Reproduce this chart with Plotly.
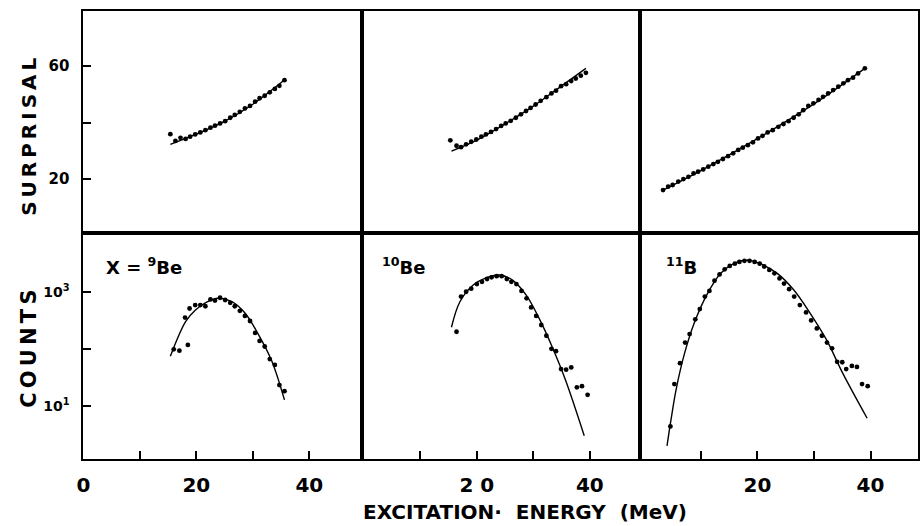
import plotly.graph_objects as go

W, H = 920, 526

# ---- surprisal (top row) ----
be9_surp_E = [15.4, 16.3, 17.2, 18.1, 18.9, 19.8, 20.7, 21.6, 22.5, 23.3, 24.2, 25.1, 26.0,
              26.8, 27.7, 28.6, 29.5, 30.4, 31.2, 32.1, 33.0, 33.9, 34.7, 35.6]
be9_surp_S = [35.9, 33.5, 34.6, 34.2, 35.0, 35.8, 36.5, 37.3, 38.2, 38.9, 39.7, 40.5, 41.7,
              42.7, 43.8, 45.0, 45.9, 47.4, 48.6, 49.5, 50.7, 51.9, 53.0, 55.0]
be9_surp_fit_E = [15.4, 20.0, 25.0, 30.0, 35.8]
be9_surp_fit_S = [32.3, 35.9, 40.4, 46.5, 55.4]

be10_surp_E = [15.3, 16.4, 17.2, 18.1, 19.0, 19.9, 20.8, 21.6, 22.5, 23.4, 24.3, 25.1, 26.0, 26.9,
               27.8, 28.7, 29.5, 30.4, 31.3, 32.3, 33.2, 34.0, 34.9, 35.8, 36.7, 37.5, 38.4, 39.3]
be10_surp_S = [33.7, 31.8, 31.3, 32.3, 33.2, 34.0, 35.0, 35.8, 36.7, 37.7, 38.8, 39.7, 40.6, 41.7,
               42.9, 44.1, 45.2, 46.4, 47.7, 49.0, 50.3, 51.3, 52.9, 53.6, 54.7, 55.6, 56.6, 57.6]
be10_surp_fit_E = [15.5, 20.0, 25.0, 30.0, 35.0, 39.3]
be10_surp_fit_S = [29.9, 33.8, 39.5, 45.8, 53.0, 59.2]

b11_surp_E = [3.3, 4.2, 5.0, 6.0, 6.9, 7.8, 8.7, 9.5, 10.4, 11.3, 12.2, 13.0, 13.9, 14.8,
              15.7, 16.6, 17.4, 18.3, 19.2, 20.1, 20.9, 21.8, 22.7, 23.7, 24.6, 25.5, 26.4,
              27.3, 28.1, 29.0, 29.9, 30.8, 31.6, 32.5, 33.4, 34.3, 35.2, 36.0, 36.9, 37.8, 39.0]
b11_surp_S = [16.1, 17.3, 17.9, 19.1, 20.0, 20.8, 22.0, 22.6, 23.4, 24.4, 25.3, 26.1, 27.1, 28.1,
              29.1, 30.3, 31.1, 32.0, 33.0, 34.4, 35.3, 36.5, 37.3, 38.5, 39.5, 40.5, 41.7,
              42.9, 44.4, 45.9, 46.8, 48.0, 49.1, 50.3, 51.5, 52.7, 53.9, 55.0, 55.9, 57.4, 59.2]
b11_surp_fit_E = [3.3, 10.0, 20.0, 30.0, 39.0]
b11_surp_fit_S = [16.1, 23.0, 34.3, 46.6, 59.2]

# ---- counts (bottom row, log scale) ----
be9_cnt_E = [16.0, 17.0, 18.0, 18.5, 18.8, 19.8, 20.7, 21.6, 22.5, 23.3, 24.2, 25.1, 26.0,
             26.8, 27.7, 28.6, 29.5, 30.4, 31.2, 32.1, 33.0, 33.9, 34.7, 35.6]
be9_cnt_N = [98, 93, 355, 117, 513, 589, 589, 562, 741, 708, 794, 724, 646,
             562, 468, 380, 309, 191, 138, 110, 66, 52, 23, 18]
be9_cnt_fit_E = [15.4, 18.1, 19.8, 21.6, 23.9, 26.3, 28.6, 30.9, 33.3, 35.6]
be9_cnt_fit_N = [74, 302, 479, 646, 776, 676, 427, 186, 63, 12.6]

be10_cnt_E = [16.4, 17.2, 18.1, 19.0, 20.0, 20.9, 21.8, 22.6, 23.5, 24.4, 25.3, 26.1, 27.0, 27.9,
              28.8, 29.6, 30.5, 31.4, 32.3, 33.2, 34.0, 34.9, 35.8, 36.7, 37.7, 38.6, 39.6]
be10_cnt_N = [200, 832, 1012, 1148, 1380, 1514, 1698, 1820, 1905, 1905, 1698, 1514, 1380, 1047,
              776, 537, 380, 263, 170, 100, 91, 44, 43, 47, 21, 22, 15.5]
be10_cnt_fit_E = [15.5, 17.0, 19.3, 21.6, 24.0, 26.3, 28.7, 31.0, 33.3, 35.7, 39.0]
be10_cnt_fit_N = [240, 676, 1318, 1778, 1995, 1622, 891, 347, 110, 28, 2.95]

b11_cnt_E = [4.6, 5.3, 6.3, 7.2, 8.0, 9.0, 9.8, 10.7, 11.5, 12.4, 13.3, 14.2, 15.1, 16.0, 16.8,
             17.7, 18.6, 19.5, 20.4, 21.2, 22.1, 23.0, 23.9, 24.7, 25.6, 26.5, 27.5, 28.6, 29.5,
             30.5, 31.4, 32.3, 33.2, 34.1, 35.0, 35.7, 36.7, 37.6, 38.5, 39.5]
b11_cnt_N = [4.3, 24, 56, 129, 182, 331, 501, 832, 1047, 1585, 2042, 2512, 2884, 3162, 3388,
             3548, 3548, 3388, 3162, 2818, 2455, 2138, 1738, 1413, 1122, 832, 589, 437, 316,
             229, 170, 129, 102, 59, 58, 44, 50, 48, 24, 22]
b11_cnt_fit_E = [4.0, 4.7, 5.6, 7.1, 8.8, 11.2, 13.5, 15.8, 18.2, 20.5, 23.5, 26.4, 29.3, 32.2, 35.1, 39.4]
b11_cnt_fit_N = [1.95, 5.6, 19, 83, 282, 955, 2138, 3162, 3631, 3162, 2138, 1096, 427, 145, 37, 6.0]

panel_labels = ["X = <sup>9</sup>Be", "<sup>10</sup>Be", "<sup>11</sup>B"]

# ---- panel geometry (pixels) ----
col_px = [(77, 358), (358, 639), (639, 919)]
row_px = {"top": (11, 233), "bot": (233, 459)}
x_ranges = [[0, 49.3], [-0.35, 48.95], [-0.7, 48.4]]
surp_range = [0.9, 79.5]
log_range = [0.06, 4.04]

FONT = "DejaVu Sans"
ink = "black"

def xd(a, b):
    return [a / W, b / W]

def yd(top, bot):
    return [1 - bot / H, 1 - top / H]

fig = go.Figure()

dot = dict(color=ink, size=4.8, symbol="circle")
line = dict(color=ink, width=1.4, shape="spline")

top_series = [(be9_surp_E, be9_surp_S, be9_surp_fit_E, be9_surp_fit_S),
              (be10_surp_E, be10_surp_S, be10_surp_fit_E, be10_surp_fit_S),
              (b11_surp_E, b11_surp_S, b11_surp_fit_E, b11_surp_fit_S)]
bot_series = [(be9_cnt_E, be9_cnt_N, be9_cnt_fit_E, be9_cnt_fit_N),
              (be10_cnt_E, be10_cnt_N, be10_cnt_fit_E, be10_cnt_fit_N),
              (b11_cnt_E, b11_cnt_N, b11_cnt_fit_E, b11_cnt_fit_N)]

for i, (ex, ey, fx, fy) in enumerate(top_series):
    n = i + 1
    xa, ya = ("x" if n == 1 else f"x{n}"), ("y" if n == 1 else f"y{n}")
    fig.add_trace(go.Scatter(x=fx, y=fy, mode="lines", line=line, xaxis=xa, yaxis=ya))
    fig.add_trace(go.Scatter(x=ex, y=ey, mode="markers", marker=dot, xaxis=xa, yaxis=ya))

for i, (ex, ey, fx, fy) in enumerate(bot_series):
    n = i + 4
    xa, ya = f"x{n}", f"y{n}"
    fig.add_trace(go.Scatter(x=fx, y=fy, mode="lines", line=line, xaxis=xa, yaxis=ya))
    fig.add_trace(go.Scatter(x=ex, y=ey, mode="markers", marker=dot, xaxis=xa, yaxis=ya))

frame = dict(showline=True, mirror=True, linecolor=ink, linewidth=2,
             showgrid=False, zeroline=False, fixedrange=True)

layout = {}
for i in range(3):
    a, b = col_px[i]
    # top row
    kx = "xaxis" if i == 0 else f"xaxis{i+1}"
    ky = "yaxis" if i == 0 else f"yaxis{i+1}"
    anc_y = "y" if i == 0 else f"y{i+1}"
    anc_x = "x" if i == 0 else f"x{i+1}"
    layout[kx] = dict(frame, domain=xd(a, b), range=x_ranges[i], anchor=anc_y,
                      showticklabels=False, ticks="")
    ydict = dict(frame, domain=yd(*row_px["top"]), range=surp_range, anchor=anc_x)
    if i == 0:
        ydict.update(ticks="inside", ticklen=8, tickwidth=2, tickcolor=ink,
                     tickvals=[20, 40, 60], ticktext=["20", "", "60"],
                     tickfont=dict(family=FONT, size=15, color=ink, weight="bold"),
                     ticklabelstandoff=9)
    else:
        ydict.update(showticklabels=False, ticks="")
    layout[ky] = ydict

    # bottom row
    n = i + 4
    if i == 0:
        tv, tt = [0, 10, 20, 30, 40], ["0", "", "20", "", "40"]
    elif i == 1:
        tv, tt = [10, 20, 30, 40], ["", "2 0", "", "40"]
    else:
        tv, tt = [10, 20, 30, 40], ["", "20", "", "40"]
    layout[f"xaxis{n}"] = dict(frame, domain=xd(a, b), range=x_ranges[i], anchor=f"y{n}",
                               ticks="inside", ticklen=8, tickwidth=2, tickcolor=ink,
                               tickvals=tv, ticktext=tt,
                               tickfont=dict(family=FONT, size=20, color=ink, weight="bold"),
                               ticklabelstandoff=7)
    ydict = dict(frame, domain=yd(*row_px["bot"]), type="log", range=log_range, anchor=f"x{n}")
    if i == 0:
        ydict.update(ticks="inside", ticklen=8, tickwidth=2, tickcolor=ink,
                     tickvals=[10, 100, 1000],
                     ticktext=["10<sup>1</sup>", "", "10<sup>3</sup>"],
                     tickfont=dict(family=FONT, size=14, color=ink, weight="bold"),
                     ticklabelstandoff=9)
    else:
        ydict.update(showticklabels=False, ticks="")
    layout[f"yaxis{n}"] = ydict

title_font = dict(family=FONT, size=21, color=ink, weight="bold")
annotations = [
    dict(text="S U R P R I S A L".replace(" ", "\u2009"), x=22 / W, y=1 - 137 / H, textangle=-90,
         font=dict(title_font, size=20)),
    dict(text="C O U N T S".replace(" ", "\u2009"), x=22 / W, y=1 - 349 / H, textangle=-90,
         font=title_font),
    dict(text="EXCITATION\u00b7  ENERGY  (MeV)", x=523 / W, y=1 - 512 / H,
         font=dict(title_font, size=20)),
]
label_pos = [(98, 266), (376, 266), (663, 266)]
for (px, py), txt in zip(label_pos, panel_labels):
    annotations.append(dict(text=txt, x=px / W, y=1 - py / H, xanchor="left",
                            font=dict(family=FONT, size=18, color=ink, weight="bold")))
for an in annotations:
    an.setdefault("xanchor", "center")
    an.update(xref="paper", yref="paper", yanchor="middle", showarrow=False)

fig.update_layout(width=W, height=H, margin=dict(l=0, r=0, t=0, b=0),
                  paper_bgcolor="white", plot_bgcolor="white", showlegend=False,
                  annotations=annotations, **layout)

fig.write_html("out.html", config={"displayModeBar": False})
